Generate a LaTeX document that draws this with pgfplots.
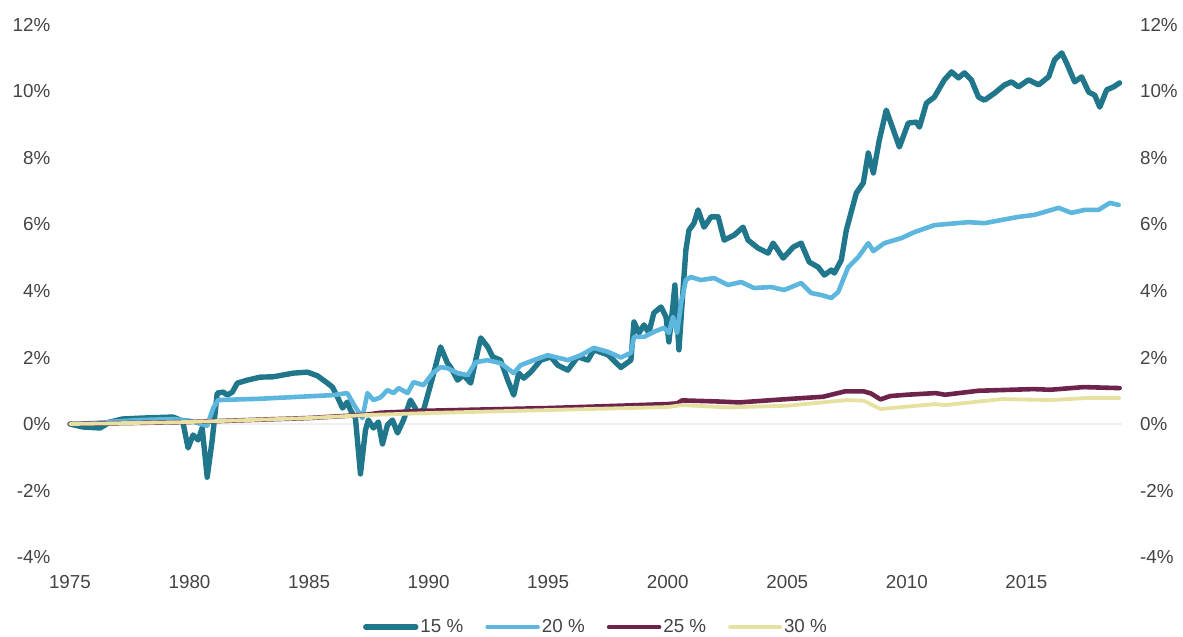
\documentclass[border=0pt]{standalone}
\usepackage{pgfplots}
\pgfplotsset{compat=1.18}
\usepackage{fontspec}
\setmainfont{Liberation Sans}
\definecolor{cA}{HTML}{20768A}
\definecolor{cB}{HTML}{5CB6DE}
\definecolor{cC}{HTML}{6E234B}
\definecolor{cD}{HTML}{E6E1A0}
\definecolor{lbl}{HTML}{444444}
\begin{document}
\fontsize{9.4}{11}\selectfont
\begin{tikzpicture}
\begin{axis}[
  scale only axis, width=526pt, height=266pt,
  xmin=1975, xmax=2019, ymin=-4, ymax=12,
  axis line style={draw=none}, major tick length=0pt,
  xtick={1975,1980,1985,1990,1995,2000,2005,2010,2015},
  xticklabels={1975,1980,1985,1990,1995,2000,2005,2010,2015},
  ytick={-4,-2,0,2,4,6,8,10,12},
  yticklabels={-4\%,-2\%,0\%,2\%,4\%,6\%,8\%,10\%,12\%},
  xticklabel style={yshift=-6pt, text=lbl},
  yticklabel style={xshift=-6.5pt, text=lbl},
  clip=false,
  legend columns=4,
  legend style={draw=none, fill=none, at={(rel axis cs:0.5,-0.1316)}, anchor=center,
    font=\fontsize{9.4}{11}\selectfont, text=lbl,
    nodes={inner sep=1pt},
    /tikz/every even column/.append style={column sep=10pt}},
  legend image code/.code={\draw[#1] (0pt,0pt) -- (25pt,0pt);},
  every axis plot/.append style={line join=round, line cap=round},
]
\draw[black!6, line width=0.6pt] (axis cs:1975,0) -- (axis cs:2019,0);
\addplot[cA, line width=2.7pt] coordinates {
(1975.00,0) (1975.54,-0.09) (1976.26,-0.12) (1976.68,0.06) (1977.18,0.15) (1978.06,0.18)
(1979.31,0.21) (1979.61,0.12) (1979.73,0.03) (1979.94,-0.72) (1980.15,-0.33) (1980.36,-0.48)
(1980.53,-0.12) (1980.74,-1.6) (1980.95,-0.48) (1981.16,0.93) (1981.41,0.96) (1981.58,0.87)
(1981.79,0.96) (1982.00,1.23) (1982.42,1.32) (1982.96,1.41) (1983.50,1.42) (1984.34,1.53)
(1984.93,1.56) (1985.35,1.45) (1985.77,1.23) (1985.98,1.11) (1986.19,0.81) (1986.40,0.48)
(1986.60,0.66) (1986.73,0.42) (1986.94,0.18) (1987.15,-1.5) (1987.36,-0.18) (1987.48,0.12)
(1987.69,-0.12) (1987.90,0.06) (1988.07,-0.6) (1988.28,-0.03) (1988.49,0.12) (1988.70,-0.27)
(1988.95,0.12) (1989.24,0.72) (1989.54,0.36) (1989.79,0.42) (1990.17,1.41) (1990.50,2.32)
(1990.79,1.83) (1990.92,1.71) (1991.21,1.32) (1991.46,1.47) (1991.76,1.23) (1991.97,1.92)
(1992.18,2.59) (1992.47,2.32) (1992.68,2.02) (1993.01,1.92) (1993.31,1.32) (1993.56,0.87)
(1993.77,1.53) (1993.98,1.38) (1994.27,1.56) (1994.69,1.92) (1995.11,2.02) (1995.40,1.77)
(1995.82,1.62) (1996.24,2.02) (1996.66,1.92) (1996.91,2.23) (1997.50,2.08) (1998.04,1.70)
(1998.46,1.92) (1998.59,3.07) (1998.80,2.74) (1999.01,2.98) (1999.21,2.74) (1999.42,3.34)
(1999.72,3.52) (1999.93,3.22) (2000.05,2.47) (2000.22,3.58) (2000.30,4.18) (2000.47,2.23)
(2000.64,4.03) (2000.76,5.23) (2000.89,5.83) (2001.10,6.04) (2001.27,6.44) (2001.52,5.92)
(2001.81,6.23) (2002.11,6.23) (2002.36,5.53) (2002.78,5.68) (2003.15,5.92) (2003.36,5.53)
(2003.78,5.29) (2004.20,5.14) (2004.41,5.44) (2004.83,4.99) (2005.25,5.32) (2005.58,5.44)
(2005.92,4.87) (2006.29,4.72) (2006.55,4.48) (2006.84,4.63) (2006.97,4.54) (2007.26,4.93)
(2007.47,5.83) (2007.89,6.95) (2008.18,7.25) (2008.39,8.15) (2008.60,7.55) (2008.85,8.54)
(2009.14,9.44) (2009.44,8.84) (2009.69,8.33) (2010.06,9.05) (2010.40,9.08) (2010.53,8.93)
(2010.82,9.65) (2011.15,9.83) (2011.57,10.35) (2011.87,10.59) (2012.16,10.41) (2012.41,10.56)
(2012.70,10.35) (2013.00,9.83) (2013.25,9.74) (2013.67,9.95) (2014.09,10.20) (2014.38,10.29)
(2014.67,10.14) (2015.09,10.35) (2015.51,10.20) (2015.93,10.44) (2016.18,10.95) (2016.48,11.16)
(2016.68,10.86) (2017.02,10.29) (2017.31,10.44) (2017.61,9.98) (2017.86,9.89) (2018.07,9.53)
(2018.36,10.05) (2018.65,10.14) (2018.90,10.26)
};
\addlegendentry{15 \%}
\addplot[cB, line width=2.3pt] coordinates {
(1975.00,0) (1976.00,0.03) (1977.00,0.08) (1978.00,0.12) (1979.31,0.15) (1980.00,0.10)
(1980.74,-0.05) (1980.99,0.48) (1981.20,0.72) (1982.96,0.76) (1986.02,0.87) (1986.60,0.93)
(1986.86,0.60) (1987.07,0.36) (1987.23,0.18) (1987.44,0.93) (1987.69,0.72) (1987.99,0.80)
(1988.28,1.02) (1988.53,0.93) (1988.74,1.08) (1989.12,0.93) (1989.37,1.26) (1989.79,1.17)
(1990.17,1.53) (1990.50,1.71) (1990.79,1.68) (1991.21,1.53) (1991.63,1.47) (1991.97,1.86)
(1992.47,1.92) (1993.01,1.83) (1993.56,1.53) (1993.85,1.77) (1994.40,1.92) (1994.98,2.07)
(1995.82,1.92) (1996.37,2.07) (1996.91,2.29) (1997.50,2.17) (1998.04,2.00) (1998.46,2.14)
(1998.59,2.62) (1999.01,2.62) (1999.42,2.77) (1999.84,2.89) (2000.05,2.74) (2000.22,3.22)
(2000.39,2.74) (2000.56,3.64) (2000.76,4.33) (2000.97,4.42) (2001.39,4.33) (2001.94,4.39)
(2002.52,4.18) (2003.07,4.27) (2003.61,4.09) (2004.33,4.12) (2004.87,4.03) (2005.58,4.24)
(2006.00,3.94) (2006.42,3.88) (2006.84,3.79) (2007.13,3.97) (2007.55,4.72) (2007.97,5.02)
(2008.39,5.44) (2008.60,5.20) (2009.06,5.44) (2009.77,5.59) (2010.32,5.77) (2011.15,5.98)
(2012.58,6.07) (2013.25,6.04) (2014.67,6.23) (2015.34,6.29) (2016.35,6.50) (2016.89,6.35)
(2017.44,6.44) (2018.02,6.44) (2018.49,6.65) (2018.86,6.59)
};
\addlegendentry{20 \%}
\addplot[cC, line width=2.3pt] coordinates {
(1975,0) (1980,0.06) (1985,0.18) (1987.4,0.28) (1988,0.34) (1990,0.40) (1995,0.48) (1998,0.55)
(2000,0.60) (2000.4,0.62) (2000.6,0.71) (2002,0.68) (2003,0.65) (2005,0.75) (2006.5,0.82)
(2007.4,0.98) (2008.2,0.98) (2008.5,0.92) (2008.9,0.74) (2009.3,0.84) (2010,0.88)
(2011.2,0.93) (2011.6,0.88) (2013,1.00) (2015.3,1.05) (2016,1.03) (2017.4,1.11) (2018.9,1.08)
};
\addlegendentry{25 \%}
\addplot[cD, line width=1.9pt] coordinates {
(1975,0) (1980,0.06) (1985,0.18) (1987.4,0.27) (1990,0.33) (1995,0.42) (2000,0.51)
(2000.6,0.57) (2002.5,0.50) (2005,0.55) (2007.5,0.72) (2008.2,0.70) (2008.9,0.45)
(2009.8,0.51) (2011.2,0.60) (2011.6,0.57) (2014,0.75) (2016,0.72) (2017.5,0.78) (2018.9,0.78)
};
\addlegendentry{30 \%}
\coordinate (bl) at (rel axis cs:-0.0665,-0.1485);
\coordinate (tr) at (rel axis cs:1.058,1.047);
\end{axis}
\begin{axis}[
  scale only axis, width=526pt, height=266pt,
  xmin=1975, xmax=2019, ymin=-4, ymax=12,
  axis line style={draw=none}, major tick length=0pt,
  xtick=\empty,
  ytick={-4,-2,0,2,4,6,8,10,12},
  yticklabels={-4\%,-2\%,0\%,2\%,4\%,6\%,8\%,10\%,12\%},
  yticklabel pos=right,
  yticklabel style={xshift=5.7pt, text=lbl},
]
\end{axis}
\pgfresetboundingbox
\path (bl) rectangle (tr);
\end{tikzpicture}
\end{document}
